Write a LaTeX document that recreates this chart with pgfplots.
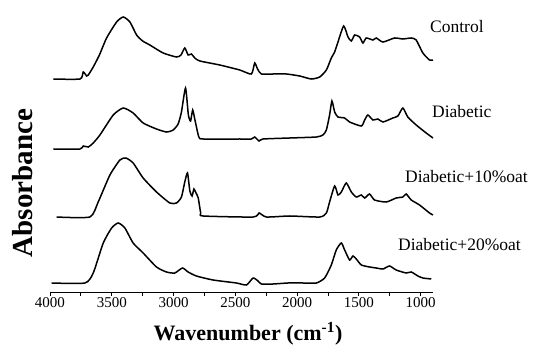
\documentclass[border=0pt]{standalone}
\usepackage{pgfplots}
\pgfplotsset{compat=1.18}
\usepackage{fontspec}
\setmainfont{Liberation Serif}
\begin{document}
\begin{tikzpicture}
\path[use as bounding box] (-50pt,-52pt) rectangle (496pt,293pt);
\begin{axis}[
  at={(0pt,0pt)}, anchor=south west,
  scale only axis, width=383pt, height=283pt,
  x dir=reverse, xmin=900, xmax=4000, ymin=0, ymax=283,
  axis x line*=bottom, axis y line=none,
  xtick={1000,1500,...,4000}, minor xtick={1250,1750,...,3750},
  tick align=outside, major tick length=3pt, minor tick length=3pt,
  every tick/.style={black, line width=0.9pt},
  axis line style={line width=1pt},
  /pgf/number format/assume math mode=true,
  /pgf/number format/set thousands separator={},
  xticklabel style={font=\fontsize{15}{15}\selectfont, inner sep=1pt},
  clip=false,
  spec/.style={black, no markers, line width=1.5pt, smooth, tension=0.35},
]
% Control
\addplot[spec] coordinates {(3973,214)(3757,214)(3731,221)(3703,217)(3690,218)(3650,226)(3600,238)(3542,255)(3461,271)(3407,276)(3353,271)(3299,258)(3250,252)(3192,248)(3084,240)(2976,236)(2940,238)(2909,245)(2882,238)(2855,239)(2828,235)(2787,232)(2626,228)(2464,223)(2370,219)(2343,230)(2320,224)(2289,219)(2195,219)(2087,219)(1979,217)(1885,214)(1817,216)(1763,223)(1723,235)(1696,241)(1669,251)(1623,267)(1588,256)(1561,252)(1534,258)(1494,256)(1467,250)(1440,255)(1386,253)(1359,255)(1305,251)(1211,255)(1144,254)(1076,255)(1036,253)(982,240)(928,233)(900,233)};
% Diabetic
\addplot[spec] coordinates {(3973,144)(3757,144)(3731,147)(3690,146)(3650,150)(3596,158)(3488,178)(3407,185)(3327,180)(3246,170)(3138,164)(3057,161)(3003,163)(2963,169)(2936,181)(2903,205)(2880,178)(2862,172)(2845,183)(2825,172)(2795,156)(2760,154)(2464,154)(2370,154)(2343,156)(2308,152)(2276,154)(2060,155)(1844,156)(1791,158)(1763,163)(1737,178)(1718,192)(1696,181)(1669,176)(1615,175)(1575,171)(1480,167)(1453,173)(1427,178)(1386,173)(1346,174)(1305,171)(1225,175)(1184,177)(1144,185)(1104,176)(1036,168)(955,160)(900,155)};
% Diabetic+10%oat
\addplot[spec] coordinates {(3946,76)(3677,76)(3610,91)(3515,118)(3434,133)(3386,135)(3327,130)(3246,115)(3138,101)(3030,90)(2976,90)(2936,96)(2909,111)(2887,120)(2868,102)(2850,97)(2835,104)(2818,100)(2800,95)(2780,80)(2760,77)(2356,76)(2308,80)(2248,76)(2060,77)(1817,76)(1763,80)(1737,91)(1696,107)(1669,98)(1642,101)(1602,110)(1561,101)(1521,96)(1480,98)(1453,95)(1413,99)(1373,93)(1279,91)(1198,95)(1144,96)(1117,99)(1076,93)(1009,88)(928,80)(900,78)};
% Diabetic+20%oat
\addplot[spec] coordinates {(3986,10)(3717,10)(3650,20)(3569,50)(3501,65)(3448,70)(3394,65)(3327,50)(3246,40)(3138,26)(3057,21)(2990,20)(2928,25)(2882,21)(2815,17)(2680,13)(2491,10)(2410,8)(2356,15)(2316,12)(2289,9)(2195,9)(2074,10)(1953,10)(1844,10)(1777,15)(1723,28)(1683,43)(1642,50)(1615,43)(1575,33)(1548,37)(1521,34)(1480,28)(1413,26)(1359,25)(1305,24)(1252,27)(1198,23)(1117,20)(1076,21)(1022,17)(982,15)(914,14)};
\end{axis}
\node[rotate=90, font=\fontsize{29}{29}\selectfont\bfseries] at (-27pt,110pt) {Absorbance};
\node[font=\fontsize{22}{22}\selectfont\bfseries] at (198pt,-41pt) {Wavenumber (cm\textsuperscript{-1})};
\begin{scope}[every node/.style={anchor=west, inner sep=0pt, font=\fontsize{17.5}{17.5}\selectfont}]
\node at (380pt,266pt) {Control};
\node at (382pt,181pt) {Diabetic};
\node at (355pt,116pt) {Diabetic+10\%oat};
\node at (348pt,48pt) {Diabetic+20\%oat};
\end{scope}
\end{tikzpicture}
\end{document}
